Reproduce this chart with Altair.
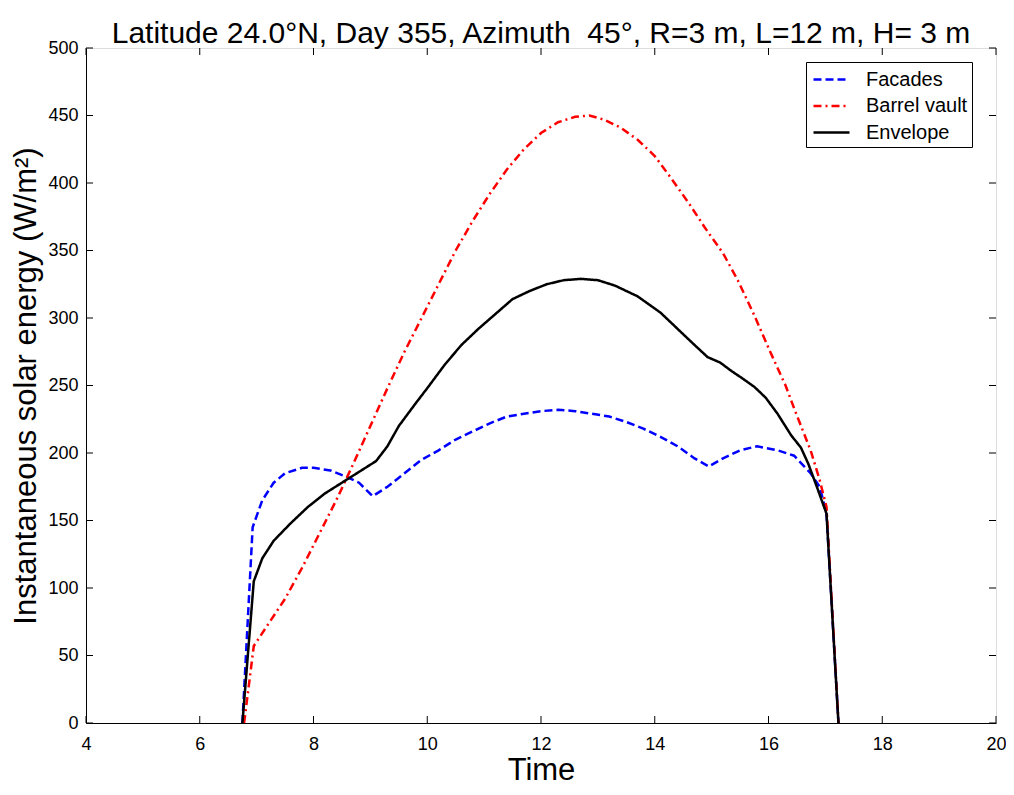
import altair as alt
import pandas as pd

# Facades (blue dashed)
fac_t = [6.75, 6.93, 7.1, 7.3, 7.5, 7.8, 8.0, 8.3, 8.6, 8.8, 9.04, 9.3, 9.6, 9.9, 10.2, 10.5, 10.8, 11.1, 11.4,
         11.7, 12.0, 12.3, 12.6, 12.9, 13.2, 13.5, 13.8, 14.1, 14.4, 14.7, 14.95, 15.2, 15.5, 15.8, 16.16,
         16.45, 16.74, 16.9, 17.02, 17.23]
fac_v = [0, 145, 165, 178, 185, 189, 189, 187, 182, 178, 168, 175, 185, 195, 202, 210, 216, 222, 227,
         229, 231, 232, 231, 229, 227, 223, 218, 212, 205, 196, 190, 196, 202, 205, 202,
         198, 185, 175, 155, 0]

# Barrel vault (red dash-dot)
bar_t = [6.78, 6.95, 7.2, 7.5, 7.8, 8.1, 8.4, 8.7, 9.0, 9.3, 9.6, 9.9, 10.2, 10.5, 10.8, 11.1, 11.4, 11.7,
         12.0, 12.3, 12.6, 12.85, 13.1, 13.4, 13.7, 14.0, 14.28, 14.6, 14.88, 15.2, 15.46, 15.75, 16.04,
         16.3, 16.46, 16.74, 16.9, 17.02, 17.23]
bar_v = [0, 57, 73, 92, 115, 140, 165, 192, 220, 248, 275, 300, 325, 350, 372, 392, 410, 425,
         437, 445, 449, 450, 447, 441, 432, 420, 404, 385, 367, 348, 328, 302, 274,
         250, 232, 202, 180, 160, 0]

# Envelope (black solid)
env_t = [6.75, 6.95, 7.1, 7.3, 7.6, 7.9, 8.2, 8.5, 8.8, 9.1, 9.3, 9.5, 9.8, 10.0, 10.3, 10.6, 10.9, 11.2,
         11.5, 11.8, 12.1, 12.4, 12.7, 13.0, 13.3, 13.7, 14.1, 14.4, 14.7, 14.93, 15.15, 15.34,
         15.55, 15.75, 15.95, 16.16, 16.4, 16.57, 16.7, 16.85, 17.02, 17.23]
env_v = [0, 105, 122, 135, 148, 160, 170, 178, 186, 194, 205, 220, 237, 248, 265, 280, 292, 303,
         314, 320, 325, 328, 329, 328, 324, 316, 304, 292, 280, 271, 267, 261,
         255, 249, 241, 229, 213, 204, 192, 175, 155, 0]

series_names = ["Facades", "Barrel vault", "Envelope"]
series_colors = ["#0000ff", "#ff0000", "#000000"]
series_dashes = [[8, 4], [8, 4, 2, 4], [1, 0]]

x_ticks = [4, 6, 8, 10, 12, 14, 16, 18, 20]
y_ticks = [0, 50, 100, 150, 200, 250, 300, 350, 400, 450, 500]

rows = []
for name, ts, vs in [("Facades", fac_t, fac_v), ("Barrel vault", bar_t, bar_v), ("Envelope", env_t, env_v)]:
    for i, (t, v) in enumerate(zip(ts, vs)):
        rows.append({"series": name, "time": t, "value": v, "idx": i})
df = pd.DataFrame(rows)

W, H = 910, 675
FONT = "Liberation Sans"

xs = alt.Scale(domain=[4, 20], nice=False)
ys = alt.Scale(domain=[0, 500], nice=False)

lines = alt.Chart(df).mark_line(strokeWidth=2.5, clip=True).encode(
    x=alt.X("time:Q", scale=xs, title="Time",
            axis=alt.Axis(values=x_ticks, format="d", tickSize=0, labelFontSize=18, titleFontSize=31,
                          labelPadding=12, titlePadding=2, grid=False, domainColor="black",
                          labelColor="black", titleColor="black", titleFontWeight="normal",
                          labelFlush=False, labelFont=FONT, titleFont=FONT)),
    y=alt.Y("value:Q", scale=ys, title="Instantaneous solar energy (W/m²)",
            axis=alt.Axis(values=y_ticks, format="d", tickSize=0, labelFontSize=18, titleFontSize=31,
                          labelPadding=8, titlePadding=5, grid=False, domainColor="black",
                          labelColor="black", titleColor="black", titleFontWeight="normal",
                          labelFlush=False, labelFont=FONT, titleFont=FONT)),
    color=alt.Color("series:N", scale=alt.Scale(domain=series_names, range=series_colors),
                    title=None,
                    legend=alt.Legend(orient="none", legendX=720, legendY=14,
                                      symbolType="M-1.5,0H1.5",
                                      symbolStrokeWidth=2.5, symbolSize=576, labelFontSize=20,
                                      labelFont=FONT, labelColor="black", strokeColor="black",
                                      fillColor="white", padding=4, rowPadding=2.5,
                                      labelOffset=21, symbolOffset=8)),
    strokeDash=alt.StrokeDash("series:N", scale=alt.Scale(domain=series_names, range=series_dashes),
                              title=None, legend=None),
    order="idx:Q",
)

xt = pd.DataFrame({"t": x_ticks})
yt = pd.DataFrame({"v": y_ticks})

xb = alt.Chart(xt).mark_rule(color="black", strokeWidth=1).encode(
    x=alt.X("t:Q", scale=xs), y=alt.value(H), y2=alt.value(H - 7))
xtop = alt.Chart(xt).mark_rule(color="black", strokeWidth=1).encode(
    x=alt.X("t:Q", scale=xs), y=alt.value(0), y2=alt.value(7))
yl = alt.Chart(yt).mark_rule(color="black", strokeWidth=1).encode(
    y=alt.Y("v:Q", scale=ys), x=alt.value(0), x2=alt.value(7))
yr = alt.Chart(yt).mark_rule(color="black", strokeWidth=1).encode(
    y=alt.Y("v:Q", scale=ys), x=alt.value(W), x2=alt.value(W - 7))

chart = alt.layer(xb, xtop, yl, yr, lines).properties(
    width=W, height=H,
    title=alt.TitleParams("Latitude 24.0°N, Day 355, Azimuth\u00a0 45°, R=3 m, L=12 m, H= 3 m",
                          fontSize=30, font=FONT, fontWeight="normal", color="black",
                          anchor="middle", offset=0, dy=10),
    autosize=alt.AutoSizeParams(type="none"),
    padding={"left": 78, "top": 40, "right": 10, "bottom": 64},
).configure_view(stroke="black", strokeWidth=1).configure(background="white")

chart.save("out.html", embed_options={"renderer": "svg", "actions": False})
